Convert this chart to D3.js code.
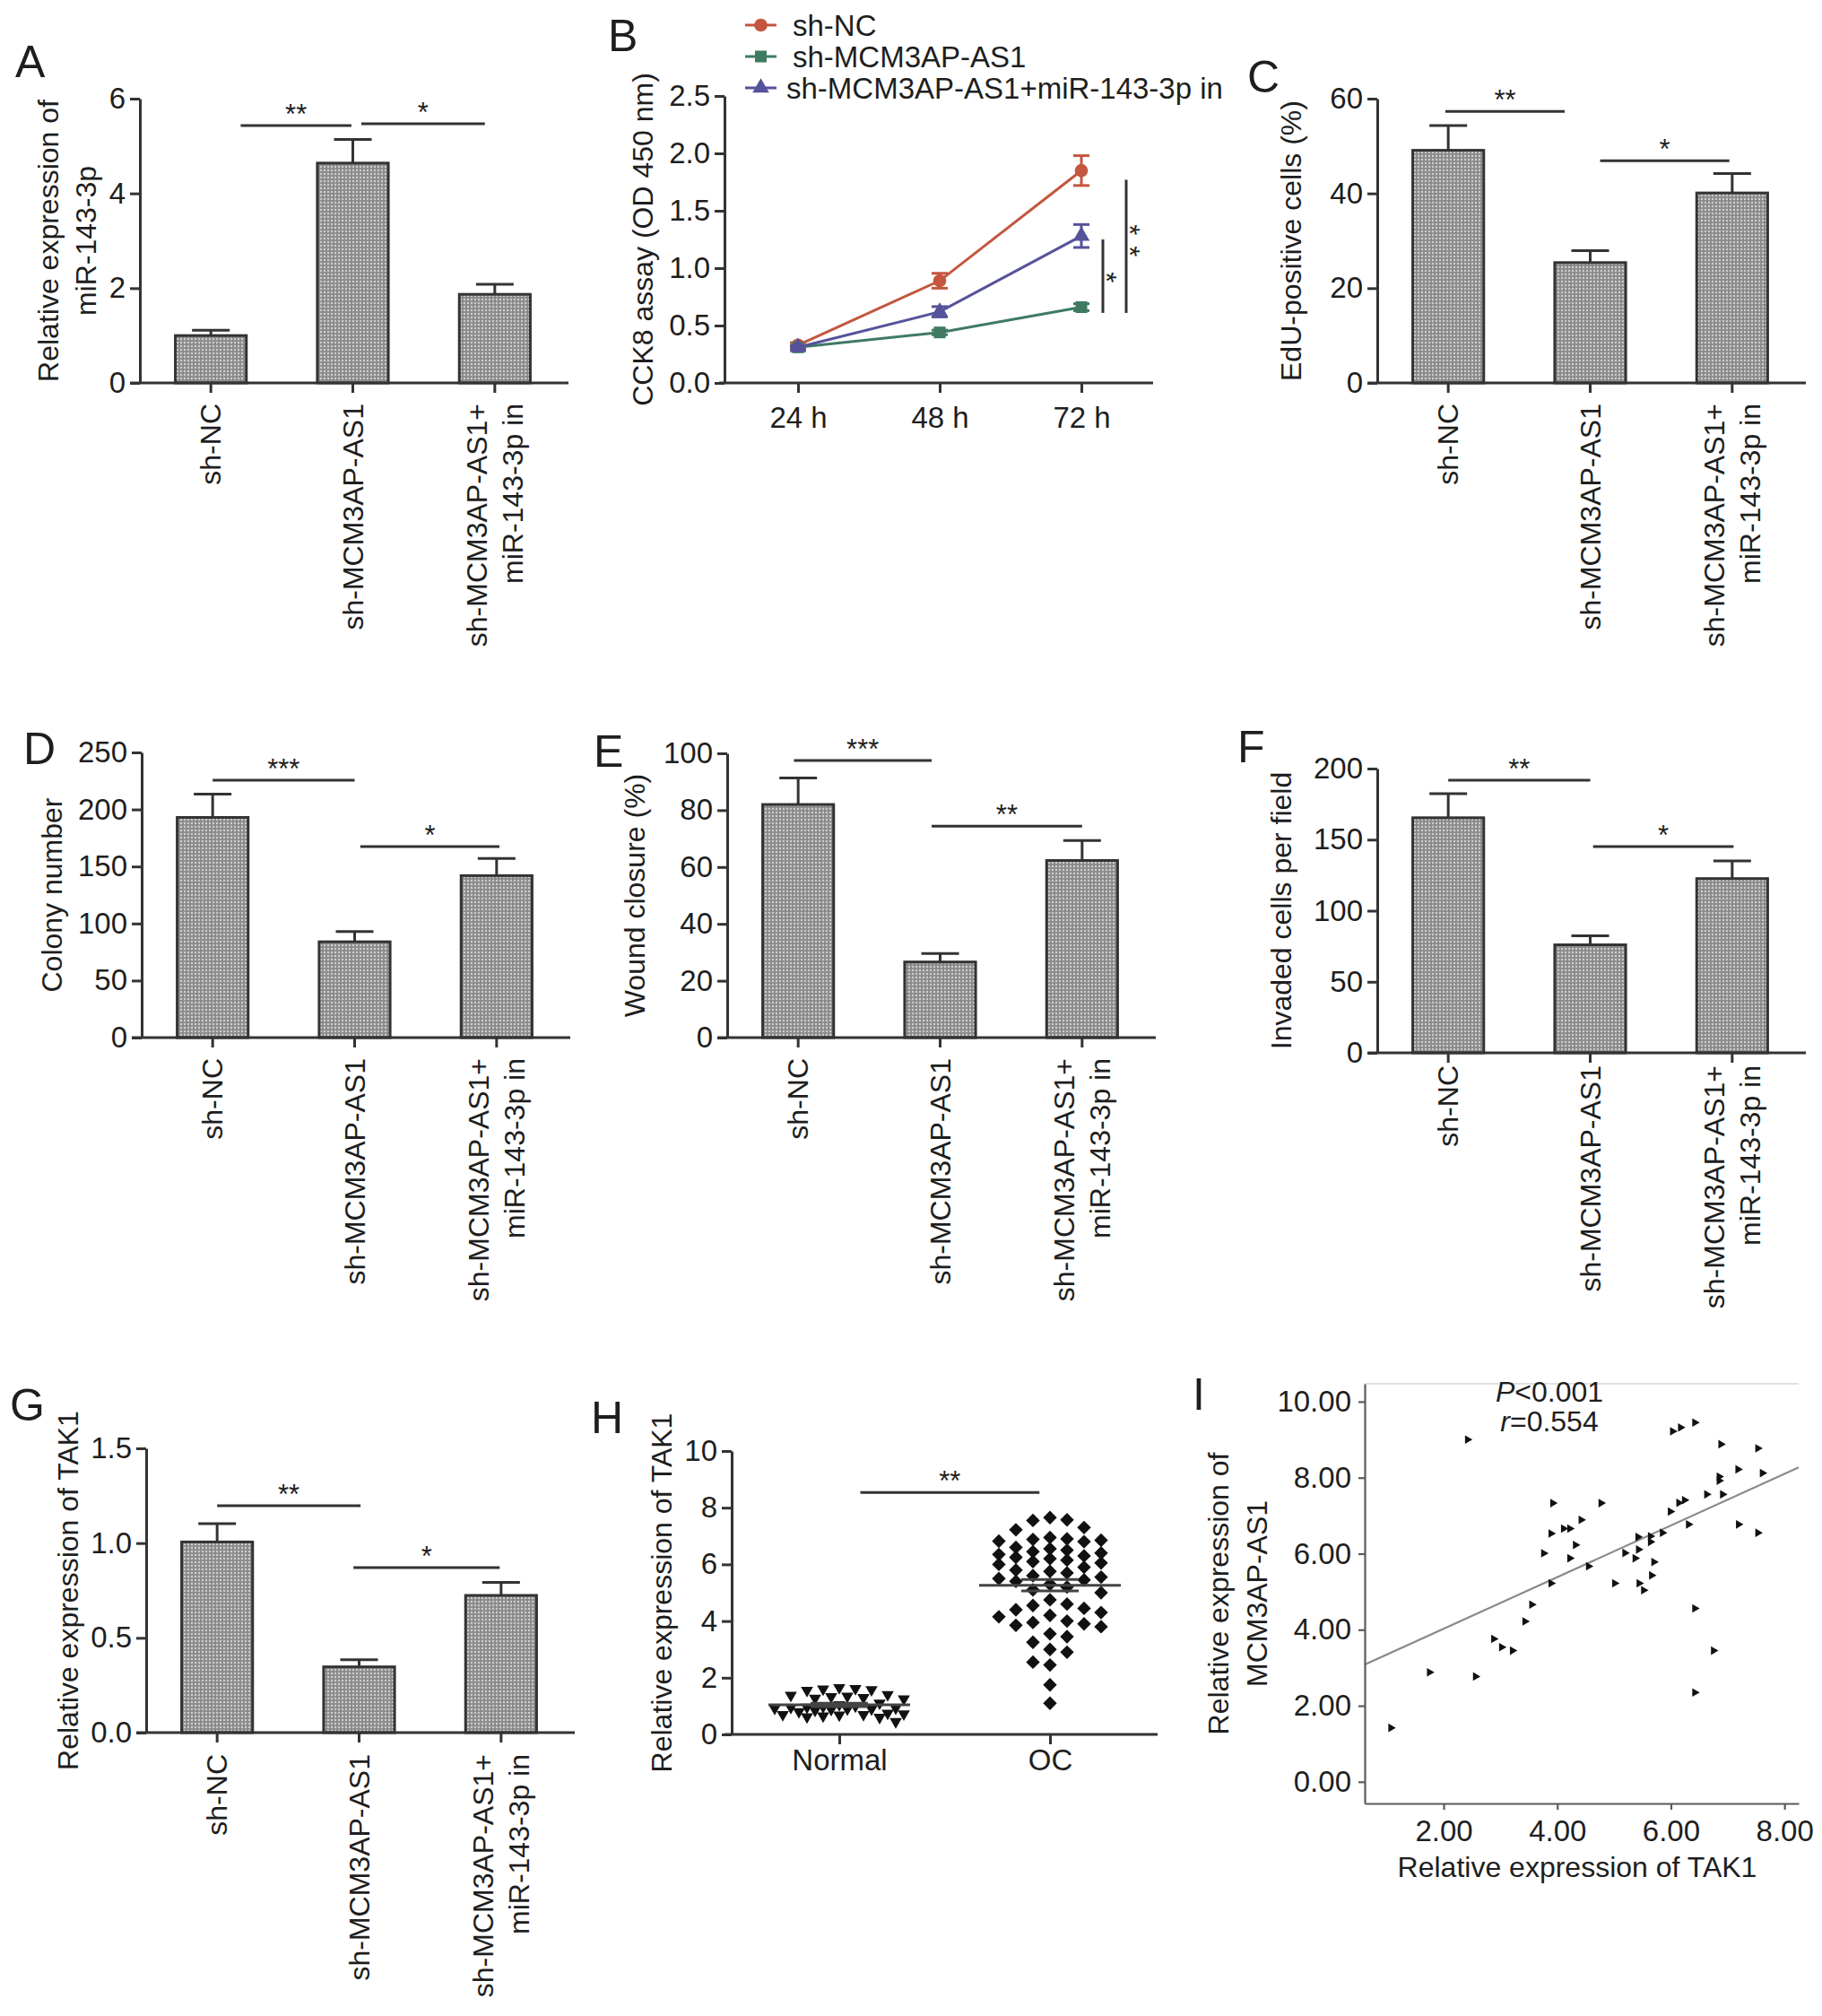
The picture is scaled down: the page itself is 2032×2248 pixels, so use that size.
<!DOCTYPE html>
<html>
<head>
<meta charset="utf-8">
<script src="https://cdn.jsdelivr.net/npm/d3@7"></script>
<style>
  body { margin: 0; background: #fff; }
  svg text { font-family: "Liberation Sans", Arial, sans-serif; fill: #1e1e1e; }
</style>
</head>
<body>
<div id="chart"></div>
<script>
// ---- data ----
const groups = [['sh-NC'], ['sh-MCM3AP-AS1'], ['sh-MCM3AP-AS1+', 'miR-143-3p in']];

const miR143 = [1.0, 4.64, 1.87];
const miR143Err = [0.11, 0.50, 0.21];
const edu = [49.1, 25.4, 40.1];
const eduErr = [5.2, 2.5, 4.1];
const colony = [193, 84, 142];
const colonyErr = [20.5, 9, 15];
const wound = [82, 26.6, 62.3];
const woundErr = [9.3, 3.0, 7.0];
const invaded = [165.4, 76, 122.6];
const invadedErr = [17, 6.4, 12.4];
const tak1 = [1.006, 0.347, 0.724];
const tak1Err = [0.097, 0.037, 0.069];

// significance bars: [from group, to group, value, label]
const sigA = [[0.21, 0.99, 5.43, '**'], [1.06, 1.93, 5.47, '*']];
const sigC = [[-0.02, 0.82, 57.3, '**'], [1.07, 1.98, 46.9, '*']];
const sigD = [[0, 1, 225.6, '***'], [1.04, 2.02, 167.5, '*']];
const sigE = [[-0.03, 0.94, 97.5, '***'], [0.94, 2.0, 74.4, '**']];
const sigF = [[0, 1, 191.8, '**'], [1.02, 2.01, 145.1, '*']];
const sigG = [[0, 1.01, 1.197, '**'], [0.96, 1.99, 0.871, '*']];

const timePoints = ['24 h', '48 h', '72 h'];
const seriesNames = ['sh-NC', 'sh-MCM3AP-AS1', 'sh-MCM3AP-AS1+miR-143-3p in'];
const cckNC = [0.33, 0.89, 1.85];
const cckNCErr = [0.02, 0.065, 0.13];
const cckSh = [0.31, 0.44, 0.66];
const cckShErr = [0.015, 0.02, 0.03];
const cckRescue = [0.31, 0.62, 1.28];
const cckRescueErr = [0.015, 0.045, 0.10];
// vertical significance bars at 72 h: [low, high, label, label position]
const cckSig = [[0.61, 1.25, '*', 0.92], [0.61, 1.77, '**', 1.24]];

const tissues = ['Normal', 'OC'];
const tak1Normal = [1.65, 1.62, 1.6, 1.58, 1.55, 1.4, 1.38, 1.35, 1.33, 1.3, 1.28, 1.25, 1.1, 1.05,
  1.0, 0.98, 0.96, 0.95, 0.93, 0.92, 0.9, 0.9, 0.88, 0.85, 0.8, 0.75, 0.72, 0.7, 0.7, 0.68,
  0.65, 0.62, 0.6, 0.45];
const tak1OC = [7.65, 7.57, 7.55, 7.3, 7.22, 6.95, 6.9, 6.88, 6.85, 6.82, 6.8, 6.6, 6.55, 6.5,
  6.45, 6.4, 6.35, 6.3, 6.25, 6.2, 6.15, 6.1, 6.05, 6.0, 5.9, 5.8, 5.75, 5.7, 5.6, 5.55, 5.5,
  5.45, 5.4, 5.3, 5.2, 5.1, 5.0, 4.75, 4.6, 4.55, 4.45, 4.4, 4.3, 4.2, 4.15, 4.0, 3.95, 3.9,
  3.85, 3.8, 3.55, 3.45, 3.25, 3.0, 2.9, 2.55, 2.45, 1.75, 1.1];
const sigH = [[0.1, 0.95, 8.54, '**']];

const corrTAK1 = [1.07, 1.75, 2.42, 2.56, 2.88, 3.02, 3.21, 3.43, 3.55, 3.76, 3.89, 3.89, 3.92,
  4.11, 4.22, 4.22, 4.32, 4.42, 4.55, 4.77, 5.01, 5.19, 5.37, 5.42, 5.43, 5.44, 5.52, 5.64,
  5.64, 5.66, 5.70, 5.85, 5.99, 6.03, 6.17, 6.14, 6.24, 6.31, 6.42, 6.42, 6.42, 6.63, 6.75,
  6.85, 6.85, 6.88, 6.91, 7.18, 7.19, 7.53, 7.53, 7.61];
const corrMCM = [1.42, 2.88, 9.0, 2.77, 3.76, 3.54, 3.45, 4.22, 4.66, 6.01, 5.22, 6.53, 7.33,
  6.66, 6.66, 5.88, 6.23, 6.89, 5.67, 7.33, 5.22, 6.02, 5.88, 6.44, 6.11, 5.22, 5.04, 6.46,
  6.31, 5.43, 5.78, 6.55, 7.11, 9.22, 9.32, 7.34, 7.41, 6.77, 9.45, 4.56, 2.35, 7.56, 3.45,
  7.92, 8.03, 8.88, 7.56, 8.22, 6.77, 8.77, 6.55, 8.12];

// ---- setup ----
const W = 2032, H = 2248;
const ink = '#333';
const svg = d3.select('#chart').append('svg').attr('width', W).attr('height', H);
svg.append('rect').attr('width', W).attr('height', H).attr('fill', '#fff');

const pat = svg.append('defs').append('pattern')
  .attr('id', 'dots').attr('width', 4).attr('height', 4)
  .attr('patternUnits', 'userSpaceOnUse');
pat.append('rect').attr('width', 4).attr('height', 4).attr('fill', '#8a8a8a');
pat.append('circle').attr('cx', 2).attr('cy', 2).attr('r', 1.2).attr('fill', '#cfcfcf');

function styleAxis(sel, color = ink, width = 3) {
  sel.attr('font-family', null).attr('font-size', null);
  sel.select('.domain').attr('stroke', color).attr('stroke-width', width);
  sel.selectAll('.tick line').attr('stroke', color).attr('stroke-width', width);
  sel.selectAll('.tick text').attr('font-size', 33).attr('fill', '#1e1e1e');
}

function panelLabel(t, x, y) {
  svg.append('text').attr('x', x).attr('y', y).attr('font-size', 50).text(t);
}

function yTitle(lines, xs, cy) {
  lines.forEach((t, i) => {
    svg.append('text')
      .attr('transform', `translate(${xs[i]},${cy}) rotate(-90)`)
      .attr('text-anchor', 'middle').attr('dy', '0.35em')
      .attr('font-size', 32).text(t);
  });
}

function sigBars(g, list, xAt, y) {
  list.forEach(([a, b, v, lab]) => {
    g.append('line').attr('x1', xAt(a)).attr('x2', xAt(b))
      .attr('y1', y(v)).attr('y2', y(v)).attr('stroke', ink).attr('stroke-width', 3);
    g.append('text').attr('x', (xAt(a) + xAt(b)) / 2).attr('y', y(v) - 2)
      .attr('text-anchor', 'middle').attr('font-size', 31).text(lab);
  });
}

// ---- bar panels ----
function barPanel(c) {
  const g = svg.append('g');
  const x = d3.scaleBand().domain(d3.range(groups.length))
    .range([c.x0, c.x0 + 475]).paddingInner(0.5).paddingOuter(0.25);
  const y = d3.scaleLinear().domain([0, c.max]).range([c.y0, c.yTop]);
  const cx = i => x(i) + x.bandwidth() / 2;
  const step = x.step();
  const xAt = f => cx(0) + f * step;

  g.selectAll('.err').data(c.values).join('g').each(function (d, i) {
    const e = d3.select(this);
    e.append('line').attr('x1', cx(i)).attr('x2', cx(i))
      .attr('y1', y(d)).attr('y2', y(d + c.errors[i])).attr('stroke', ink).attr('stroke-width', 3);
    e.append('line').attr('x1', cx(i) - 21).attr('x2', cx(i) + 21)
      .attr('y1', y(d + c.errors[i])).attr('y2', y(d + c.errors[i])).attr('stroke', ink).attr('stroke-width', 3);
  });

  g.selectAll('.bar').data(c.values).join('rect')
    .attr('x', (d, i) => x(i)).attr('width', x.bandwidth())
    .attr('y', d => y(d)).attr('height', d => c.y0 - y(d))
    .attr('fill', 'url(#dots)').attr('stroke', ink).attr('stroke-width', 3);

  g.append('g').attr('transform', `translate(${c.x0},0)`)
    .call(d3.axisLeft(y).tickValues(c.ticks).tickFormat(c.fmt).tickSize(11).tickSizeOuter(0).tickPadding(5))
    .call(styleAxis);

  const xg = g.append('g').attr('transform', `translate(0,${c.y0})`)
    .call(d3.axisBottom(x).tickSize(11).tickFormat(''))
    .call(styleAxis);
  xg.select('.domain').attr('d', `M${c.x0 - 11},0H${c.x0 + 478}`);

  groups.forEach((lines, i) => {
    lines.forEach((t, k) => {
      const off = lines.length === 1 ? 0 : (k === 0 ? -20 : 20);
      g.append('text')
        .attr('transform', `translate(${cx(i) + off},${c.labelTop}) rotate(-90)`)
        .attr('text-anchor', 'end').attr('dy', '0.35em').attr('font-size', 32).text(t);
    });
  });

  sigBars(g, c.sig, xAt, y);
  yTitle(c.title, c.titleX, (c.y0 + c.yTop) / 2);
  panelLabel(c.label, c.lx, c.ly);
}

barPanel({ label: 'A', lx: 17, ly: 86, values: miR143, errors: miR143Err, max: 6,
  ticks: [0, 2, 4, 6], fmt: d3.format('d'), x0: 156, y0: 427, yTop: 110,
  title: ['Relative expression of', 'miR-143-3p'], titleX: [54, 96], labelTop: 450, sig: sigA });
barPanel({ label: 'C', lx: 1391, ly: 103, values: edu, errors: eduErr, max: 60,
  ticks: [0, 20, 40, 60], fmt: d3.format('d'), x0: 1536, y0: 427, yTop: 110,
  title: ['EdU-positive cells (%)'], titleX: [1440], labelTop: 450, sig: sigC });
barPanel({ label: 'D', lx: 26, ly: 852, values: colony, errors: colonyErr, max: 250,
  ticks: [0, 50, 100, 150, 200, 250], fmt: d3.format('d'), x0: 158, y0: 1157, yTop: 839,
  title: ['Colony number'], titleX: [58], labelTop: 1180, sig: sigD });
barPanel({ label: 'E', lx: 662, ly: 855, values: wound, errors: woundErr, max: 100,
  ticks: [0, 20, 40, 60, 80, 100], fmt: d3.format('d'), x0: 811, y0: 1157, yTop: 840,
  title: ['Wound closure (%)'], titleX: [708], labelTop: 1180, sig: sigE });
barPanel({ label: 'F', lx: 1380, ly: 850, values: invaded, errors: invadedErr, max: 200,
  ticks: [0, 50, 100, 150, 200], fmt: d3.format('d'), x0: 1536, y0: 1174, yTop: 857,
  title: ['Invaded cells per field'], titleX: [1429], labelTop: 1188, sig: sigF });
barPanel({ label: 'G', lx: 11, ly: 1584, values: tak1, errors: tak1Err, max: 1.5,
  ticks: [0, 0.5, 1, 1.5], fmt: d3.format('.1f'), x0: 163, y0: 1932, yTop: 1615,
  title: ['Relative expression of TAK1'], titleX: [76], labelTop: 1956, sig: sigG });

// ---- B: CCK8 line chart ----
(function () {
  const g = svg.append('g');
  const x = d3.scalePoint().domain(timePoints).range([890, 1206]);
  const y = d3.scaleLinear().domain([0, 2.5]).range([427, 107]);
  const series = [
    { name: seriesNames[0], v: cckNC, e: cckNCErr, color: '#c4563f', sym: d3.symbolCircle, size: 170 },
    { name: seriesNames[1], v: cckSh, e: cckShErr, color: '#3f7a63', sym: d3.symbolSquare, size: 170 },
    { name: seriesNames[2], v: cckRescue, e: cckRescueErr, color: '#55539a', sym: d3.symbolTriangle, size: 150 }
  ];
  const line = d3.line().x((d, i) => x(timePoints[i])).y(d => y(d));

  series.forEach(s => {
    g.append('path').attr('d', line(s.v)).attr('fill', 'none')
      .attr('stroke', s.color).attr('stroke-width', 3);
  });
  series.forEach(s => {
    s.v.forEach((d, i) => {
      const px = x(timePoints[i]);
      const a = y(d - s.e[i]), b = y(d + s.e[i]);
      g.append('line').attr('x1', px).attr('x2', px).attr('y1', a).attr('y2', b)
        .attr('stroke', s.color).attr('stroke-width', 3);
      [a, b].forEach(yy => g.append('line').attr('x1', px - 9).attr('x2', px + 9)
        .attr('y1', yy).attr('y2', yy).attr('stroke', s.color).attr('stroke-width', 3));
      g.append('path').attr('d', d3.symbol(s.sym, s.size)())
        .attr('transform', `translate(${px},${y(d)})`).attr('fill', s.color);
    });
  });

  g.append('g').attr('transform', 'translate(808,0)')
    .call(d3.axisLeft(y).tickValues([0, 0.5, 1, 1.5, 2, 2.5]).tickFormat(d3.format('.1f'))
      .tickSize(11).tickSizeOuter(0).tickPadding(5))
    .call(styleAxis);
  const xg = g.append('g').attr('transform', 'translate(0,427)')
    .call(d3.axisBottom(x).tickSize(11).tickPadding(16))
    .call(styleAxis);
  xg.select('.domain').attr('d', 'M802,0H1286');

  // significance (vertical bars right of 72 h), stars read top to bottom
  const x72 = x('72 h');
  cckSig.forEach(([lo, hi, lab, at], i) => {
    const lx = x72 + 24 + i * 26;
    g.append('line').attr('x1', lx).attr('x2', lx)
      .attr('y1', y(lo)).attr('y2', y(hi)).attr('stroke', ink).attr('stroke-width', 3);
    g.append('text').attr('transform', `translate(${lx - 7},${y(at)}) rotate(90)`)
      .attr('text-anchor', 'middle').attr('font-size', 31)
      .attr('letter-spacing', lab.length > 1 ? 12 : 0)
      .attr('dx', lab.length > 1 ? 6 : 0).text(lab);
  });

  // legend
  const ly = [28, 63, 98], tx = [884, 884, 877];
  series.forEach((s, i) => {
    g.append('line').attr('x1', 831).attr('x2', 866).attr('y1', ly[i]).attr('y2', ly[i])
      .attr('stroke', s.color).attr('stroke-width', 3);
    g.append('path').attr('d', d3.symbol(s.sym, s.size)())
      .attr('transform', `translate(848.5,${ly[i]})`).attr('fill', s.color);
    g.append('text').attr('x', tx[i]).attr('y', ly[i]).attr('dy', '0.35em')
      .attr('font-size', 33).text(s.name);
  });

  yTitle(['CCK8 assay (OD 450 nm)'], [717], 267);
  panelLabel('B', 678, 57);
})();

// ---- H: dot plot ----
// simple beeswarm: nearest free column, capped at maxK columns each side
function swarm(values, yScale, step, minDist, maxK) {
  const placed = [];
  values.map(v => ({ v, y: yScale(v) })).sort((a, b) => b.v - a.v).forEach(p => {
    let best = null, bestGap = -1;
    for (let k = 0; k <= 2 * maxK; k++) {
      const off = (k % 2 ? 1 : -1) * Math.ceil(k / 2) * step;
      const gap = d3.min(placed, q => Math.hypot(q.dx - off, q.y - p.y)) ?? Infinity;
      if (gap >= minDist) { best = off; break; }
      if (gap > bestGap) { bestGap = gap; best = off; }
    }
    p.dx = best;
    placed.push(p);
  });
  return placed;
}

(function () {
  const g = svg.append('g');
  const x = d3.scalePoint().domain(tissues).range([936, 1171]);
  const y = d3.scaleLinear().domain([0, 10]).range([1934, 1618]);

  const sets = [
    { key: 'Normal', v: tak1Normal, sym: d3.symbolTriangle, size: 80, rot: 180, step: 9, dist: 12, maxK: 8 },
    { key: 'OC', v: tak1OC, sym: d3.symbolSquare, size: 118, rot: 45, step: 19, dist: 17, maxK: 3 }
  ];
  sets.forEach(s => {
    const cx = x(s.key);
    swarm(s.v, y, s.step, s.dist, s.maxK).forEach(p => {
      g.append('path').attr('d', d3.symbol(s.sym, s.size)())
        .attr('transform', `translate(${cx + p.dx},${p.y}) rotate(${s.rot})`)
        .attr('fill', '#111');
    });
    const m = d3.mean(s.v), sem = d3.deviation(s.v) / Math.sqrt(s.v.length);
    g.append('line').attr('x1', cx - 79).attr('x2', cx + 79).attr('y1', y(m)).attr('y2', y(m))
      .attr('stroke', '#444').attr('stroke-width', 3);
    [m - sem, m + sem].forEach(v => g.append('line').attr('x1', cx - 32).attr('x2', cx + 32)
      .attr('y1', y(v)).attr('y2', y(v)).attr('stroke', '#444').attr('stroke-width', 3));
  });

  g.append('g').attr('transform', 'translate(816,0)')
    .call(d3.axisLeft(y).tickValues(d3.range(0, 11, 2)).tickFormat(d3.format('d'))
      .tickSize(11).tickSizeOuter(0).tickPadding(5))
    .call(styleAxis);
  const xg = g.append('g').attr('transform', 'translate(0,1934)')
    .call(d3.axisBottom(x).tickSize(11).tickPadding(6))
    .call(styleAxis);
  xg.select('.domain').attr('d', 'M808,0H1291');

  const xAt = f => x('Normal') + f * (x('OC') - x('Normal'));
  sigBars(g, sigH, xAt, y);
  yTitle(['Relative expression of TAK1'], [738], 1776);
  panelLabel('H', 659, 1598);
})();

// ---- I: correlation scatter ----
(function () {
  const g = svg.append('g');
  const x = d3.scaleLinear().domain([0.61, 8.25]).range([1522, 2006]);
  const y = d3.scaleLinear().domain([-0.57, 10.47]).range([2011, 1543]);
  const gray = '#5a5a5a';

  g.append('line').attr('x1', 1522).attr('x2', 2006).attr('y1', 1543).attr('y2', 1543)
    .attr('stroke', '#e2e2e2').attr('stroke-width', 2);

  // least squares fit
  const mx = d3.mean(corrTAK1), my = d3.mean(corrMCM);
  const sxy = d3.sum(corrTAK1, (v, i) => (v - mx) * (corrMCM[i] - my));
  const sxx = d3.sum(corrTAK1, v => (v - mx) * (v - mx));
  const slope = sxy / sxx, icpt = my - slope * mx;
  const [d0, d1] = x.domain();
  g.append('line').attr('x1', x(d0)).attr('x2', x(d1))
    .attr('y1', y(icpt + slope * d0)).attr('y2', y(icpt + slope * d1))
    .attr('stroke', '#8a8a8a').attr('stroke-width', 2.2);

  corrTAK1.forEach((v, i) => {
    g.append('path').attr('d', d3.symbol(d3.symbolTriangle, 40)())
      .attr('transform', `translate(${x(v)},${y(corrMCM[i])}) rotate(90)`).attr('fill', '#111');
  });

  g.append('g').attr('transform', 'translate(1522,0)')
    .call(d3.axisLeft(y).tickValues(d3.range(0, 11, 2)).tickFormat(d3.format('.2f'))
      .tickSize(7).tickSizeOuter(0).tickPadding(8))
    .call(s => styleAxis(s, gray, 2.2));
  g.append('g').attr('transform', 'translate(0,2011)')
    .call(d3.axisBottom(x).tickValues([2, 4, 6, 8])
      .tickFormat(d3.format('.2f')).tickSize(7).tickSizeOuter(0).tickPadding(12))
    .call(s => styleAxis(s, gray, 2.2));

  g.append('text').attr('x', 1759).attr('y', 2082).attr('dy', '0.35em')
    .attr('text-anchor', 'middle').attr('font-size', 32).text('Relative expression of TAK1');
  const p = g.append('text').attr('x', 1728).attr('y', 1552).attr('dy', '0.35em')
    .attr('text-anchor', 'middle').attr('font-size', 32);
  p.append('tspan').attr('font-style', 'italic').text('P');
  p.append('tspan').text('<0.001');
  const r = g.append('text').attr('x', 1728).attr('y', 1585).attr('dy', '0.35em')
    .attr('text-anchor', 'middle').attr('font-size', 32);
  r.append('tspan').attr('font-style', 'italic').text('r');
  r.append('tspan').text('=0.554');

  yTitle(['Relative expression of', 'MCM3AP-AS1'], [1359, 1402], 1777);
  panelLabel('I', 1330, 1572);
})();
</script>
</body>
</html>
